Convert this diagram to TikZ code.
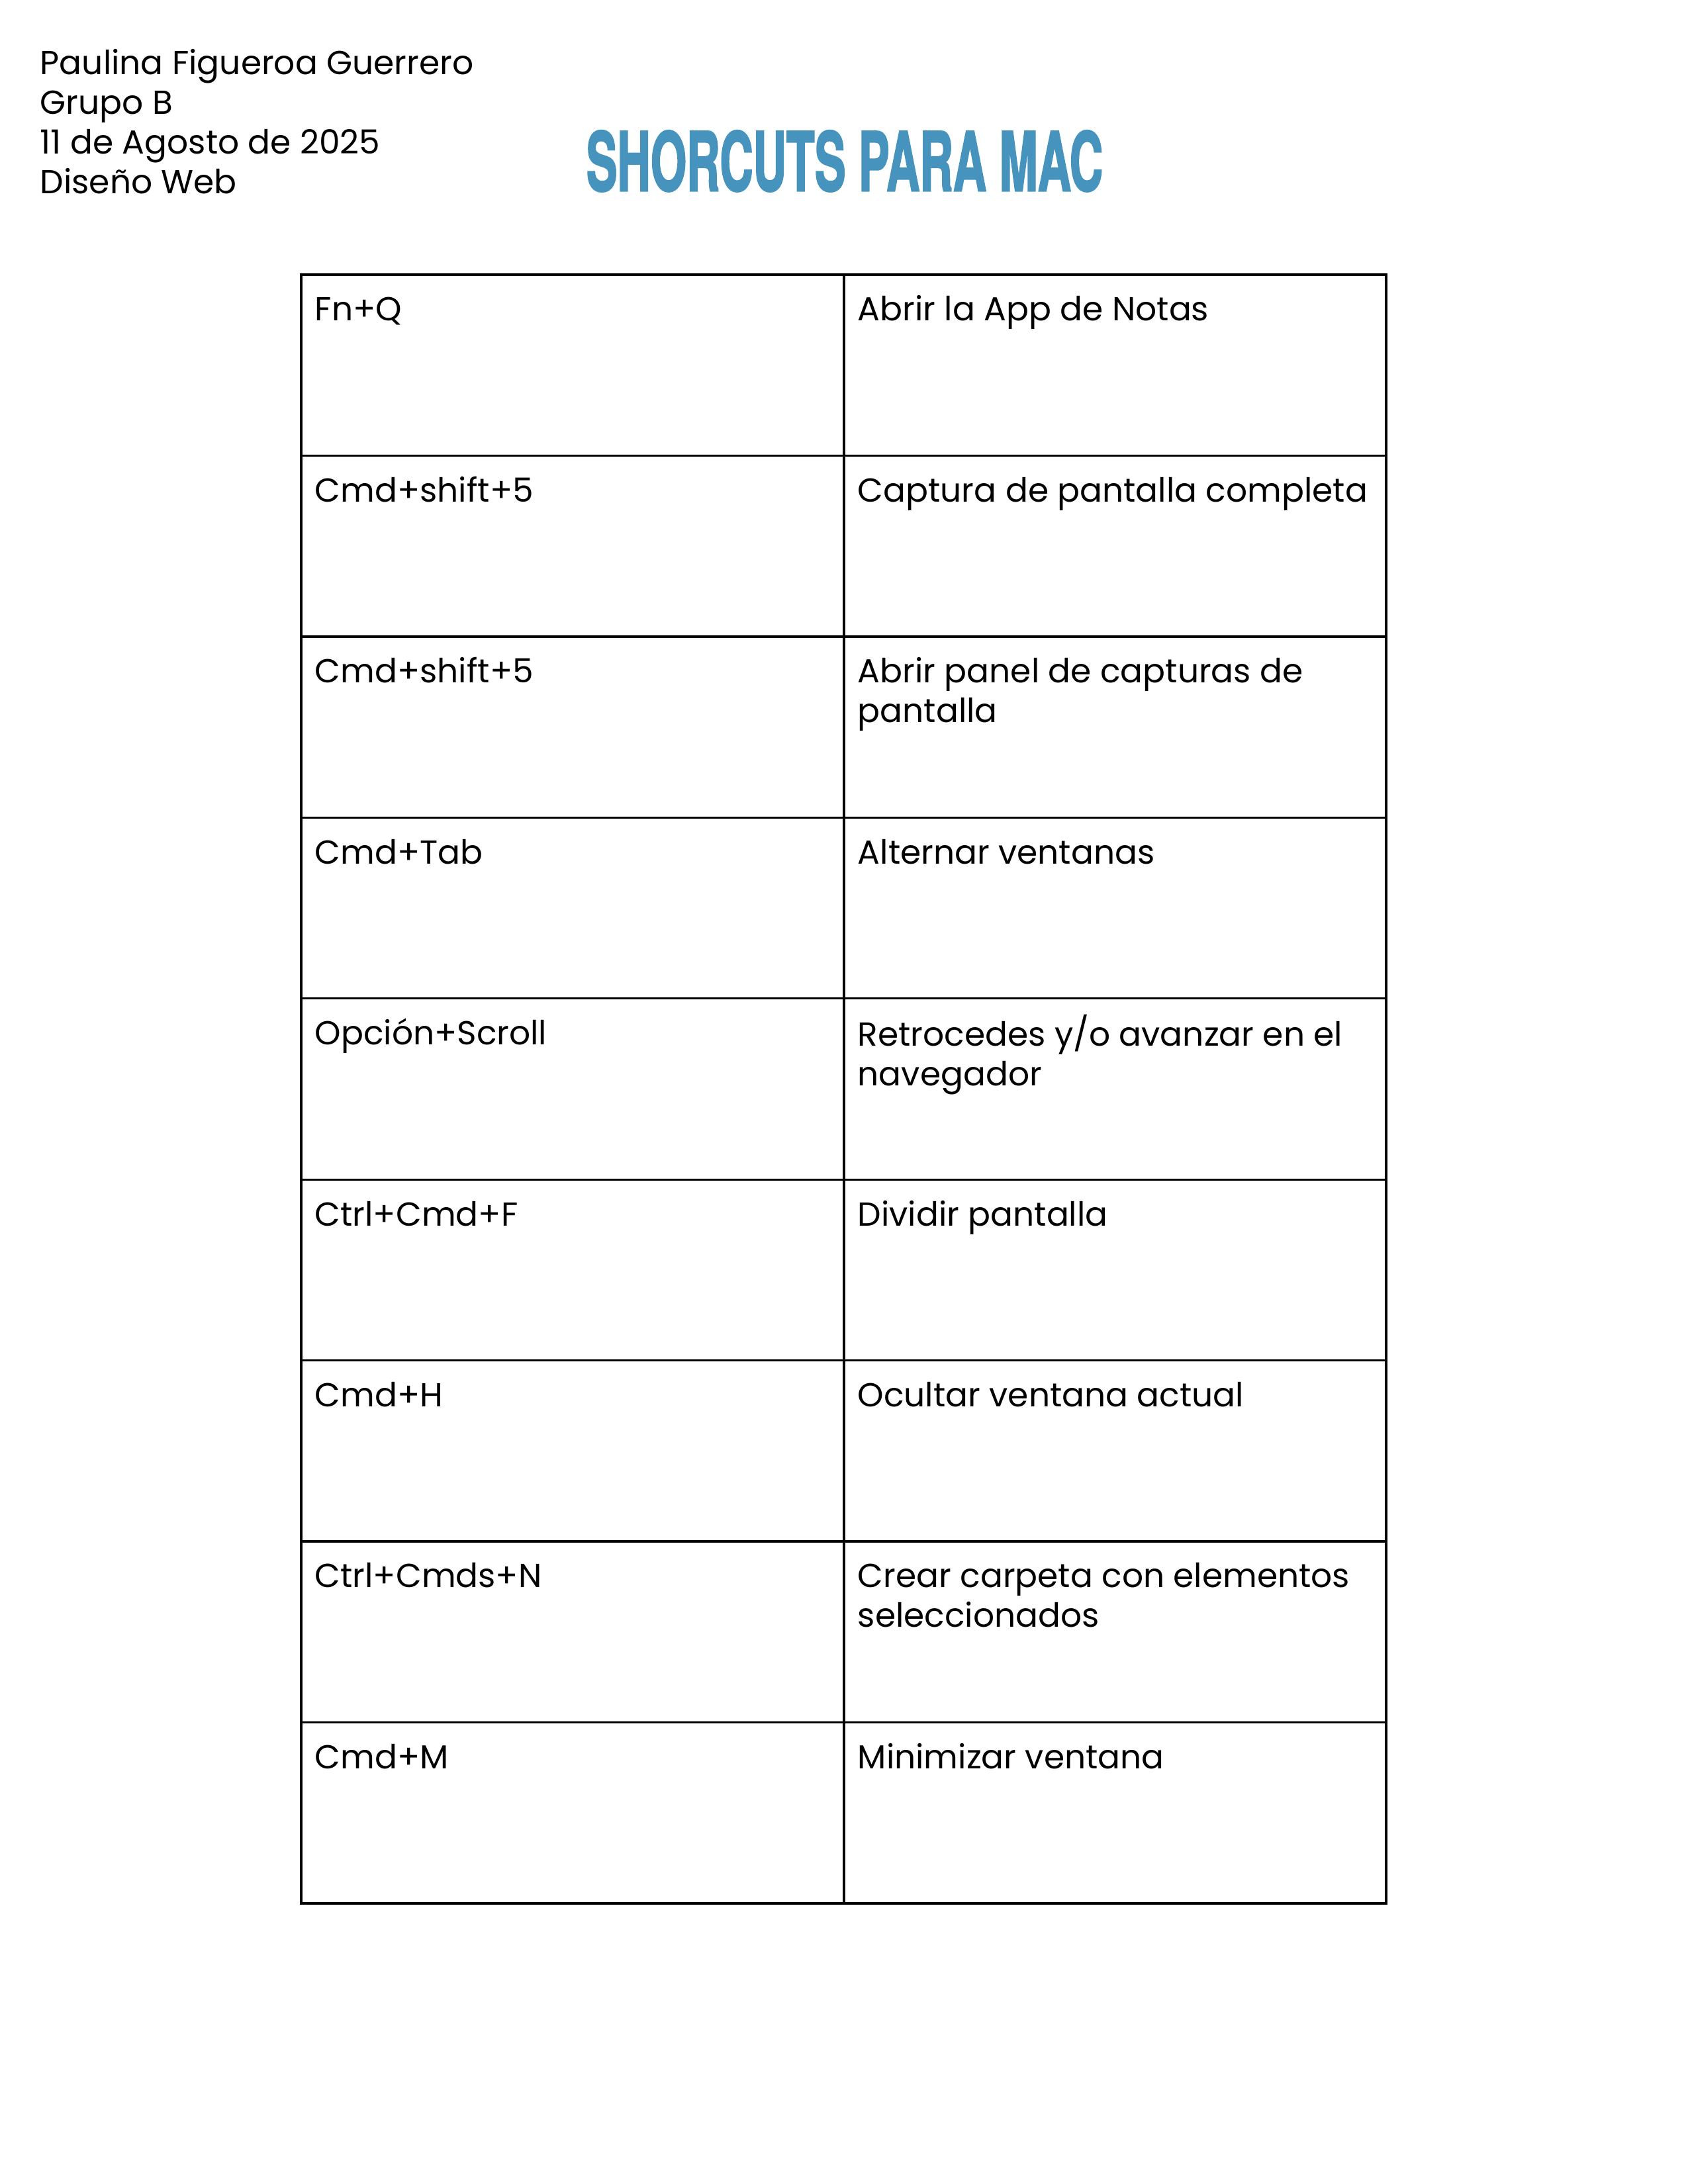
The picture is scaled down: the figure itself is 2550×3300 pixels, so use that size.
\documentclass[tikz,border=0pt]{standalone}
\usepackage{fontspec}
\setmainfont{Poppins}
\newfontfamily\titlefont{TeX Gyre Heros}[FakeBold=2.5]
\usetikzlibrary{calc}
\definecolor{titleblue}{RGB}{70,148,190}

% fixed height of the first line in every text block
\newcommand{\firstline}{\rule{0pt}{11pt}}

\begin{document}
\begin{tikzpicture}[x=0.0846667mm, y=-0.0846667mm,
    celltext/.style={anchor=north west, inner sep=0pt, align=left,
        font=\fontsize{12.1}{14.4}\selectfont},
    gridline/.style={black, line width=0.8pt}]
\useasboundingbox (0,0) rectangle (2550,3300);

% table corners
\coordinate (tl) at (455,415);
\coordinate (tr) at (2094,415);
\coordinate (bl) at (455,2876);
\coordinate (br) at (2094,2876);
\coordinate (mt) at (1275,415);
\coordinate (mb) at (1275,2876);

\newcommand{\shortcut}[3]{
    \node[celltext] (key#1) at ($(tl)+(20,{23.3+273.44*(#1-1)})$) {\firstline #2};
    \node[celltext] (act#1) at ($(mt)+(20,{23.3+273.44*(#1-1)})$) {\firstline #3};
}

\newcommand{\drawgrid}{
    \draw[gridline] (tl) rectangle (br);
    \draw[gridline] (mt)--(mb);
    \foreach \i in {1,...,8}{
        \draw[gridline] ($(tl)+(0,{273.44*\i})$)--($(tr)+(0,{273.44*\i})$);
    }
}

% header
\node[celltext] (header) at (60,66.3)
    {\firstline Paulina Figueroa Guerrero\\Grupo B\\11 de Agosto de 2025\\Diseño Web};
\node[anchor=base, inner sep=0pt, text=titleblue,
    font=\titlefont\bfseries\fontsize{29.5}{30}\selectfont] (title) at (1276,288)
    {\scalebox{0.57}[1]{SHORCUTS PARA MAC}};

\drawgrid

\shortcut{1}{Fn+Q}{Abrir la App de Notas}
\shortcut{2}{Cmd+shift+5}{Captura de pantalla completa}
\shortcut{3}{Cmd+shift+5}{Abrir panel de capturas de\\pantalla}
\shortcut{4}{Cmd+Tab}{Alternar ventanas}
\shortcut{5}{Opción+Scroll}{Retrocedes y/o avanzar en el\\navegador}
\shortcut{6}{Ctrl+Cmd+F}{Dividir pantalla}
\shortcut{7}{Cmd+H}{Ocultar ventana actual}
\shortcut{8}{Ctrl+Cmds+N}{Crear carpeta con elementos\\seleccionados}
\shortcut{9}{Cmd+M}{Minimizar ventana}
\end{tikzpicture}
\end{document}
